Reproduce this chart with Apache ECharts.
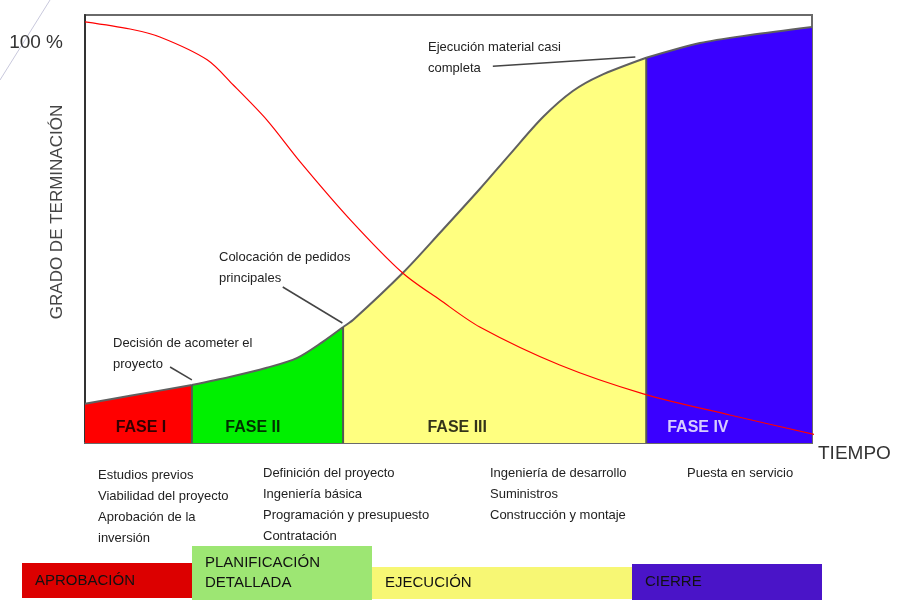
<!DOCTYPE html>
<html><head><meta charset="utf-8">
<script src="https://cdn.jsdelivr.net/npm/echarts@6/dist/echarts.min.js"></script>
<style>html,body{margin:0;padding:0;background:#fff}#c{width:899px;height:613px}</style>
</head><body><div id="c"></div>
<script>
// S-curve (grado de terminación) over time
const sX = [0, 6.2, 14.7, 19.9, 25.0, 29.2, 32.7, 35.5, 36.9, 43.7, 48.8, 54.3, 58.5, 63.0, 67.1, 70.8, 77.2, 84.6, 91.5, 100];
const sY = [9.8, 11.8, 14.5, 16.5, 18.8, 21.3, 25.3, 29.0, 30.8, 42.5, 52.5, 63.5, 72.3, 81.5, 88.0, 91.8, 96.3, 100.0, 102.0, 104.0];
// red decreasing curve
const redX = [0, 6.2, 10.3, 16.8, 20.4, 25.0, 29.6, 36.5, 43.7, 48.8, 54.3, 65.3, 76.8, 88.7, 100.7];
const redY = [105.3, 103.5, 101.5, 95.8, 89.5, 80.8, 70.3, 55.8, 42.5, 35.8, 29.0, 19.5, 12.3, 7.0, 2.0];
// phases
const phaseNames = ['FASE I', 'FASE II', 'FASE III', 'FASE IV'];
const phaseBounds = [0, 14.7, 35.5, 77.2, 100];
const phaseColors = ['#ff0000', '#00f000', '#ffff80', '#3a00ff'];
const phaseLabelColors = ['#000', '#000', '#000', '#fff'];
const phaseLabelX = [7.7, 23.1, 51.2, 84.3];
const phaseLabelY = 3.8;
// bottom stages
const stageNames = ['APROBACIÓN', 'PLANIFICACIÓN\nDETALLADA', 'EJECUCIÓN', 'CIERRE'];
const stageStart = [0, 21.25, 43.75, 76.25];
const stageEnd = [21.25, 43.75, 76.25, 100];
const stageLow = [10.8, 7.7, 9.2, 7.7];
const stageHigh = [64.6, 90.8, 58.5, 63.1];
const stageColors = ['#dc0000', '#9de673', '#f7f774', '#4a14c8'];
// activity lists
const activities = [
  ['Estudios previos', 'Viabilidad del proyecto', 'Aprobación de la', 'inversión'],
  ['Definición del proyecto', 'Ingeniería básica', 'Programación y presupuesto', 'Contratación'],
  ['Ingeniería de desarrollo', 'Suministros', 'Construcción y montaje'],
  ['Puesta en servicio']
];
// milestones
const milestones = ['Decisión de acometer el\nproyecto', 'Colocación de pedidos\nprincipales', 'Ejecución material casi\ncompleta'];
const leaderFrom = [[11.7, 19.0], [27.2, 39.0], [56.1, 94.2]];
const leaderTo = [[14.7, 15.8], [35.4, 30.0], [75.7, 96.5]];

const sPts = sX.map((x, i) => [x, sY[i]]);
const yAt = x => sY[sX.findIndex(v => Math.abs(v - x) < 1e-6)];

const series = [];
phaseNames.forEach((n, i) => {
  const pts = sPts.filter(p => p[0] >= phaseBounds[i] - 1e-9 && p[0] <= phaseBounds[i + 1] + 1e-9);
  series.push({
    type: 'line', xAxisIndex: 0, yAxisIndex: 0, data: pts, smooth: 0.3, symbol: 'none',
    lineStyle: { color: '#606060', width: 2 }, areaStyle: { color: phaseColors[i], opacity: 1 }, z: 2,
    markLine: i === 0 ? {
      silent: true, symbol: ['none', 'none'], label: { show: false },
      lineStyle: { color: '#444', width: 1.5, type: 'solid' },
      data: leaderFrom.map((f, k) => [{ coord: f }, { coord: leaderTo[k] }])
    } : undefined
  });
});
phaseBounds.slice(1, 4).forEach(b => {
  series.push({
    type: 'line', data: [[b, 0], [b, yAt(b)]], symbol: 'none',
    lineStyle: { color: '#555', width: 2 }, z: 3
  });
});
series.push({
  type: 'line', data: redX.map((x, i) => [x, redY[i]]), smooth: 0.3, symbol: 'none', clip: false,
  lineStyle: { color: '#ff0000', width: 1.2 }, z: 5
});
series.push({
  type: 'scatter', symbolSize: 0, z: 6,
  data: phaseNames.map((n, i) => ({
    value: [phaseLabelX[i], phaseLabelY], name: n,
    label: { color: phaseLabelColors[i] }
  })),
  label: { show: true, position: 'inside', formatter: p => p.name,
    fontFamily: 'Liberation Sans, Arial', fontWeight: 'bold', fontSize: 16 }
});
series.push({
  type: 'custom', xAxisIndex: 1, yAxisIndex: 1, clip: false,
  data: stageNames.map((n, i) => [stageStart[i], stageEnd[i], stageLow[i], stageHigh[i], i]),
  renderItem: (params, api) => {
    const p0 = api.coord([api.value(0), api.value(3)]);
    const p1 = api.coord([api.value(1), api.value(2)]);
    const idx = api.value(4);
    return {
      type: 'group', children: [
        { type: 'rect', shape: { x: p0[0], y: p0[1], width: p1[0] - p0[0], height: p1[1] - p0[1] },
          style: { fill: stageColors[idx] } },
        { type: 'text', style: { text: stageNames[idx], x: p0[0] + 13, y: (p0[1] + p1[1]) / 2,
          verticalAlign: 'middle', align: 'left', fill: '#111', fontSize: 15,
          fontFamily: 'Liberation Sans, Arial', lineHeight: 20 } }
      ]
    };
  }
});

const txt = (text, x, y, extra) => Object.assign({
  type: 'text', x: x, y: y, silent: true,
  style: Object.assign({ text: text, fill: '#222', fontSize: 13, fontFamily: 'Liberation Sans, Arial',
    lineHeight: 21, verticalAlign: 'top', align: 'left' }, extra || {})
});

const option = {
  animation: false,
  backgroundColor: '#fff',
  grid: [
    { left: 85, right: 87, top: 15, bottom: 170, show: true, borderColor: '#6a6a6a', borderWidth: 2 },
    { left: 22, width: 800, top: 540, height: 65 }
  ],
  xAxis: [
    { type: 'value', gridIndex: 0, min: 0, max: 100, splitLine: { show: false },
      axisLine: { show: true, lineStyle: { color: '#6a6a6a', width: 2 } },
      axisTick: { show: false }, axisLabel: { show: false },
      name: 'TIEMPO', nameLocation: 'end', nameGap: 6,
      nameTextStyle: { color: '#333', fontSize: 19, fontFamily: 'Liberation Sans, Arial', verticalAlign: 'top', padding: [1, 0, 0, 0] } },
    { type: 'value', gridIndex: 1, min: 0, max: 100, show: false }
  ],
  yAxis: [
    { type: 'value', gridIndex: 0, min: 0, max: 107, interval: 100, splitLine: { show: false },
      axisLine: { show: true, lineStyle: { color: '#333', width: 2 } }, axisTick: { show: false },
      axisLabel: { margin: 22, color: '#333', fontSize: 19, fontFamily: 'Liberation Sans, Arial',
        formatter: v => v === 100 ? '100 %' : '' } },
    { type: 'value', gridIndex: 1, min: 0, max: 100, show: false }
  ],
  series: series,
  graphic: [
    { type: 'line', silent: true, shape: { x1: 0, y1: 80, x2: 50, y2: 0 }, style: { stroke: '#c8c8dc', lineWidth: 1 } },
    { type: 'text', silent: true, x: 57, y: 212, rotation: Math.PI / 2,
      style: { text: 'GRADO DE TERMINACIÓN', fill: '#444', fontSize: 17, fontFamily: 'Liberation Sans, Arial',
        align: 'center', verticalAlign: 'middle' } },
    txt(milestones[0], 113, 332.5),
    txt(milestones[1], 219, 247),
    txt(milestones[2], 428, 37),
    txt('Plena producción', 748, 86, { fill: '#fff', align: 'center', verticalAlign: 'middle', fontSize: 12.5,
      textShadowColor: '#222', textShadowBlur: 1.5 }),
    txt(activities[0].join('\n'), 98, 464.5),
    txt(activities[1].join('\n'), 263, 462.5),
    txt(activities[2].join('\n'), 490, 462.5),
    txt(activities[3].join('\n'), 687, 463)
  ]
};
const chart = echarts.init(document.getElementById('c'));
chart.setOption(option);
</script>
</body></html>
